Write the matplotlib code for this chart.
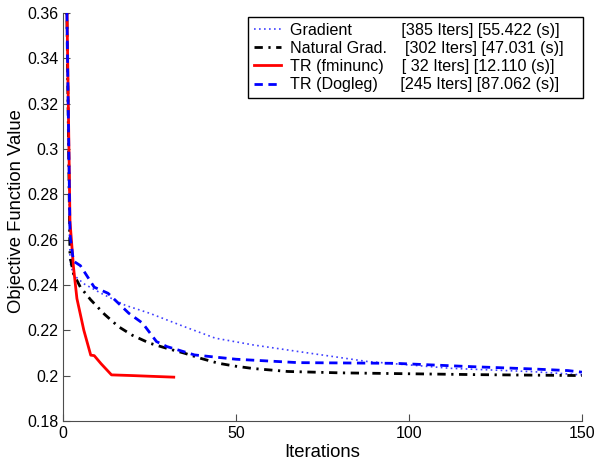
import numpy as np
import matplotlib.pyplot as plt
from matplotlib.ticker import FuncFormatter

plt.rcParams['font.family'] = ['Liberation Sans', 'DejaVu Sans']

# values (iteration, objective value)
grad_it = [1, 2, 3, 6, 11, 18, 25, 35, 44, 55, 68, 88, 112, 136, 150]
grad_val = [0.372, 0.250, 0.2445, 0.2405, 0.2363, 0.231, 0.2275, 0.2216, 0.2165,
            0.2135, 0.2106, 0.2062, 0.2032, 0.2017, 0.2003]

nat_it = [1, 2, 3, 5, 8, 12, 16, 20, 25, 30, 35, 40, 45, 50, 55, 65, 80, 100, 120, 150]
nat_val = [0.372, 0.2525, 0.245, 0.239, 0.2334, 0.227, 0.2216, 0.2178, 0.2143, 0.212,
           0.2099, 0.2075, 0.2054, 0.2041, 0.2031, 0.2018, 0.2012, 0.2008, 0.2004, 0.2000]

tr_it = [1, 2, 3, 4, 6, 8, 9, 11, 14, 20, 25, 32]
tr_val = [0.375, 0.268, 0.248, 0.234, 0.220, 0.209, 0.2088, 0.2052, 0.2003, 0.2,
          0.1997, 0.1993]

dog_it = [1, 2, 3, 5, 9, 13, 19, 23, 27, 30, 38, 50, 68, 96, 117, 136, 146, 150]
dog_val = [0.372, 0.262, 0.2505, 0.2485, 0.239, 0.2363, 0.2275, 0.2231, 0.215, 0.2128,
           0.2091, 0.2072, 0.2057, 0.2054, 0.2040, 0.2029, 0.2022, 0.2015]

pad = '\u00a0' * 3
labels = ['Gradient           [385 Iters] [55.422 (s)]' + pad,
          'Natural Grad.    [302 Iters] [47.031 (s)]' + pad,
          'TR (fminunc)    [ 32 Iters] [12.110 (s)]' + pad,
          'TR (Dogleg)     [245 Iters] [87.062 (s)]' + pad]

fig = plt.figure(figsize=(5.95, 4.59), dpi=100)
ax = fig.add_axes([0.106, 0.083, 0.872, 0.889])

ax.plot(grad_it, grad_val, color=(0.25, 0.25, 1.0), lw=1.2, ls=(0, (1, 2)), label=labels[0])
ax.plot(nat_it, nat_val, color='k', lw=2, ls=(0, (3, 2, 0.8, 2)), label=labels[1])
ax.plot(tr_it, tr_val, color='red', lw=2, label=labels[2])
ax.plot(dog_it, dog_val, color='blue', lw=2, ls=(0, (3, 2)), label=labels[3])

ax.set_xlim(0, 150)
ax.set_ylim(0.18, 0.36)
ax.set_xticks([0, 50, 100, 150])
ax.set_yticks(np.arange(0.18, 0.3601, 0.02))
ax.yaxis.set_major_formatter(FuncFormatter(lambda v, p: '%g' % round(v, 2)))
ax.tick_params(direction='in', labelsize=11.5, length=5, color='0.3')
ax.spines['top'].set_visible(False)
ax.spines['right'].set_visible(False)
for s in ['left', 'bottom']:
    ax.spines[s].set_color('0.3')

ax.set_xlabel('Iterations', fontsize=13.3, labelpad=2)
ax.set_ylabel('Objective Function Value', fontsize=13.3)
ax.yaxis.set_label_coords(-0.073, 0.515)

leg = ax.legend(loc='upper right', bbox_to_anchor=(1.002, 0.99), borderaxespad=0,
                fontsize=11.6, handlelength=1.7, handletextpad=0.55,
                labelspacing=0.2, fancybox=False, edgecolor='k', framealpha=1,
                borderpad=0.35)
leg.get_frame().set_linewidth(1)

fig.savefig('out.png', dpi=100)
